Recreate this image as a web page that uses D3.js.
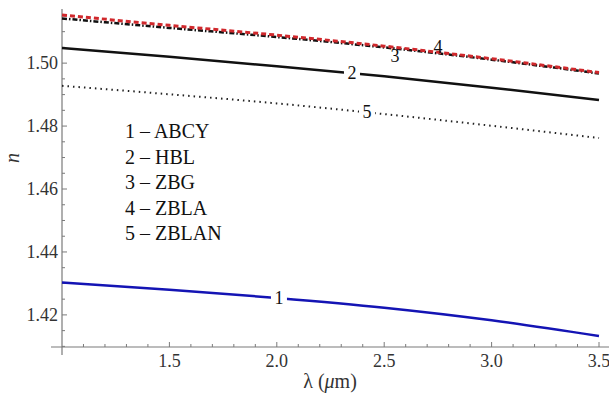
<!DOCTYPE html>
<html>
<head>
<meta charset="utf-8">
<script src="https://cdn.jsdelivr.net/npm/d3@7"></script>
<style>
  body { margin: 0; background: #fff; }
</style>
</head>
<body>
<div id="chart"></div>
<script>
// wavelength (um) and refractive index of each glass
var wavelengths = [1.0, 1.5, 2.0, 2.5, 3.0, 3.5];
var nABCY  = [1.4303, 1.4280, 1.4254, 1.4223, 1.4183, 1.4133];
var nHBL   = [1.5048, 1.5020, 1.4990, 1.4958, 1.4922, 1.4883];
var nZBG   = [1.5142, 1.5112, 1.5083, 1.5050, 1.5011, 1.4967];
var nZBLA  = [1.5153, 1.5120, 1.5089, 1.5054, 1.5014, 1.4970];
var nZBLAN = [1.4928, 1.4901, 1.4872, 1.4838, 1.4801, 1.4762];

var xTicks = [1.5, 2.0, 2.5, 3.0, 3.5];
var yTicks = [1.42, 1.44, 1.46, 1.48, 1.50];
var legendLabels = ["1 – ABCY", "2 – HBL", "3 – ZBG", "4 – ZBLA", "5 – ZBLAN"];
var curveLabels = ["1", "2", "3", "4", "5"];
var labelAt = [2.01, 2.35, 2.55, 2.75, 2.42];

var width = 609, height = 396;
var serif = '"Liberation Serif", Tinos, "Times New Roman", Times, "Nimbus Roman", "Noto Serif", "DejaVu Serif", FreeSerif, serif';

var svg = d3.select('#chart').append('svg')
              .attr('width', width)
              .attr('height', height)
              .style('font-family', serif);

var x = d3.scaleLinear().domain([1.0, 3.5]).range([62, 599]);
var y = d3.scaleLinear().domain([1.4098, 1.5172]).range([347, 9]);

var axisColor = '#7a7a7a';

// axes lines
svg.append('line')
    .attr('x1', 51).attr('x2', width)
    .attr('y1', y(1.4098)).attr('y2', y(1.4098))
    .style('stroke', axisColor).style('stroke-width', 1.2);
svg.append('line')
    .attr('x1', x(1.0)).attr('x2', x(1.0))
    .attr('y1', 355).attr('y2', y(1.5172))
    .style('stroke', axisColor).style('stroke-width', 1.2);

// x ticks
var xMinor = d3.range(11, 36).map(function(d) { return d / 10; });
svg.selectAll('.xtick')
    .data(xMinor).enter()
    .append('line')
    .attr('class', 'xtick')
    .attr('x1', function(d) { return x(d); })
    .attr('x2', function(d) { return x(d); })
    .attr('y1', y(1.4098))
    .attr('y2', function(d) {
      return y(1.4098) - (Math.abs(d*2 - Math.round(d*2)) < 1e-6 ? 5 : 3);
    })
    .style('stroke', axisColor).style('stroke-width', 1);

svg.selectAll('.xlabel')
    .data(xTicks).enter()
    .append('text')
    .attr('class', 'xlabel')
    .attr('x', function(d) { return x(d); })
    .attr('y', 367)
    .attr('text-anchor', 'middle')
    .style('font-size', '18px')
    .style('fill', '#333')
    .text(function(d) { return d.toFixed(1); });

// y ticks, minor every 0.005
var yMinor = d3.range(282, 304).map(function(d) { return d / 200; })
              .filter(function(d) { return d > 1.4098 && d < 1.5172; });
svg.selectAll('.ytick')
    .data(yMinor).enter()
    .append('line')
    .attr('class', 'ytick')
    .attr('y1', function(d) { return y(d); })
    .attr('y2', function(d) { return y(d); })
    .attr('x1', x(1.0))
    .attr('x2', function(d) {
      return x(1.0) + (Math.abs(d*50 - Math.round(d*50)) < 1e-6 ? 5 : 3);
    })
    .style('stroke', axisColor).style('stroke-width', 1);

svg.selectAll('.ylabel')
    .data(yTicks).enter()
    .append('text')
    .attr('class', 'ylabel')
    .attr('x', 58)
    .attr('y', function(d) { return y(d) + 6; })
    .attr('text-anchor', 'end')
    .style('font-size', '18px')
    .style('fill', '#333')
    .text(function(d) { return d.toFixed(2); });

// axis titles
svg.append('text')
    .attr('transform', 'translate(19,158) rotate(-90)')
    .attr('text-anchor', 'middle')
    .style('font-size', '20px')
    .style('font-style', 'italic')
    .style('fill', '#333')
    .text('n');

var xt = svg.append('text')
    .attr('x', 330).attr('y', 388)
    .attr('text-anchor', 'middle')
    .style('font-size', '20px')
    .style('fill', '#333');
xt.append('tspan').text('λ (');
xt.append('tspan').style('font-style', 'italic').text('μ');
xt.append('tspan').text('m)');

// curves
var series = [
  { values: nABCY,  color: '#1414b4', width: 2.5, dash: null },
  { values: nHBL,   color: '#111',    width: 2.5, dash: null },
  { values: nZBG,   color: '#111',    width: 2.5, dash: '5,2,1.5,2' },
  { values: nZBLA,  color: '#d0282c', width: 3,   dash: '5,3' },
  { values: nZBLAN, color: '#222',    width: 2,   dash: '1.5,4' }
];

var line = d3.line()
    .x(function(d) { return x(d[0]); })
    .y(function(d) { return y(d[1]); })
    .curve(d3.curveMonotoneX);

series.forEach(function(s) {
  svg.append('path')
      .datum(wavelengths.map(function(w, i) { return [w, s.values[i]]; }))
      .attr('d', line)
      .style('fill', 'none')
      .style('stroke', s.color)
      .style('stroke-width', s.width)
      .style('stroke-dasharray', s.dash);
});

// curve labels
function nAt(vals, w) {
  var i = Math.min(Math.floor((w - 1.0) / 0.5), vals.length - 2);
  var t = (w - wavelengths[i]) / 0.5;
  return vals[i] + t * (vals[i+1] - vals[i]);
}

var labelOffset = [0, 0, 13, 1, 0];
var onLine = [true, true, false, false, true];

series.forEach(function(s, i) {
  var lx = x(labelAt[i]);
  var ly = y(nAt(s.values, labelAt[i]));
  if (onLine[i]) {
    svg.append('rect')
        .attr('x', lx - 8).attr('y', ly - 8)
        .attr('width', 16).attr('height', 16)
        .style('fill', '#fff');
  }
  svg.append('text')
      .attr('x', lx)
      .attr('y', ly + labelOffset[i] + (onLine[i] ? 6 : 0))
      .attr('text-anchor', 'middle')
      .style('font-size', '18px')
      .style('fill', '#111')
      .text(curveLabels[i]);
});

// legend
svg.selectAll('.legend')
    .data(legendLabels).enter()
    .append('text')
    .attr('class', 'legend')
    .attr('x', 125)
    .attr('y', function(d, i) { return 138 + i * 25.6; })
    .style('font-size', '20px')
    .style('fill', '#111')
    .text(function(d) { return d; });
</script>
</body>
</html>
